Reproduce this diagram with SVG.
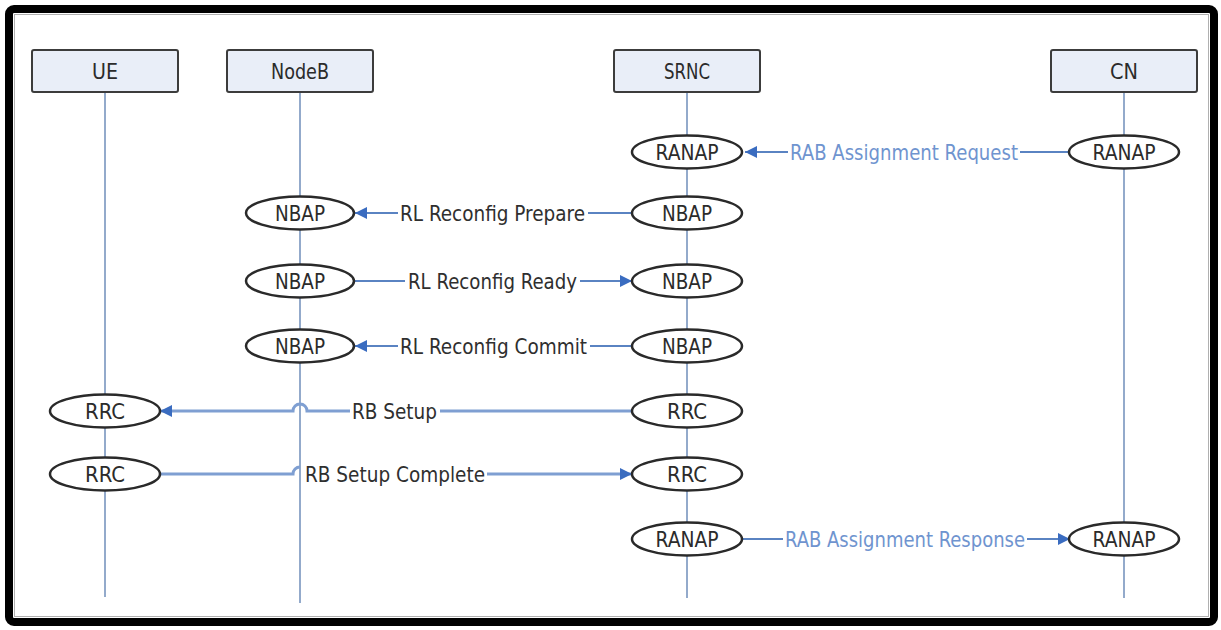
<svg xmlns="http://www.w3.org/2000/svg" width="1221" height="630" viewBox="0 0 1221 630">
<defs>
<style>
.frame{fill:#ffffff;stroke:#000000;stroke-width:8}
.inner{fill:none;stroke:#b0b0b0;stroke-width:1}
.hdr{fill:#e9eef8;stroke:#3c3c3c;stroke-width:2}
.life{stroke:#93aacb;stroke-width:2;fill:none}
.ell{fill:#ffffff;stroke:#2a2a2a;stroke-width:2.5}
.lbl{font-family:"DejaVu Sans Condensed","DejaVu Sans",sans-serif;font-size:22px;fill:#2b2b2b;text-anchor:middle}
.msg{stroke:#5a83c2;stroke-width:2;fill:none}
.msg2{stroke:#7f9fd2;stroke-width:3;fill:none}
.mt{font-family:"DejaVu Sans Condensed","DejaVu Sans",sans-serif;font-size:22px;fill:#2f2f2f}
.mtb{font-family:"DejaVu Sans Condensed","DejaVu Sans",sans-serif;font-size:22px;fill:#6f94cf}
</style>
<marker id="arr" viewBox="0 0 12 12" refX="12" refY="6" markerWidth="12" markerHeight="12" markerUnits="userSpaceOnUse" orient="auto">
<path d="M0,0 L12,6 L0,12 z" fill="#3a6cc0"/>
</marker>
</defs>
<rect class="frame" x="9" y="9" width="1205" height="613" rx="5"/>
<rect class="inner" x="14.5" y="14.5" width="1194" height="602"/>

<g id="lifelines">
<line class="life" x1="105" y1="92" x2="105" y2="597"/>
<line class="life" x1="300" y1="92" x2="300" y2="603"/>
<line class="life" x1="687" y1="92" x2="687" y2="598"/>
<line class="life" x1="1124" y1="92" x2="1124" y2="598"/>
</g>

<g id="connectors">
<path class="msg" d="M1070,152 L1020,152 M788,152 L745,152" marker-end="url(#arr)"/>
<text class="mtb" x="790" y="160" textLength="228" lengthAdjust="spacingAndGlyphs">RAB Assignment Request</text>
<path class="msg" d="M632,213 L588,213 M398,213 L355,213" marker-end="url(#arr)"/>
<text class="mt" x="400" y="221" textLength="185" lengthAdjust="spacingAndGlyphs">RL Reconfig Prepare</text>
<path class="msg" d="M354,281 L405,281 M580,281 L632,281" marker-end="url(#arr)"/>
<text class="mt" x="408" y="289" textLength="169" lengthAdjust="spacingAndGlyphs">RL Reconfig Ready</text>
<path class="msg" d="M632,346 L590,346 M398,346 L355,346" marker-end="url(#arr)"/>
<text class="mt" x="400" y="354" textLength="187" lengthAdjust="spacingAndGlyphs">RL Reconfig Commit</text>
<path class="msg2" d="M632,411 L440,411 M350,411 L307,411 A7,7 0 0 0 293,411 L160,411" marker-end="url(#arr)"/>
<text class="mt" x="352" y="419" textLength="85" lengthAdjust="spacingAndGlyphs">RB Setup</text>
<path class="msg2" d="M160,474 L293,474 A7,7 0 0 1 300,467 M487,474 L632,474" marker-end="url(#arr)"/>
<text class="mt" x="305" y="482" textLength="180" lengthAdjust="spacingAndGlyphs">RB Setup Complete</text>
<path class="msg" d="M742,539 L783,539 M1027,539 L1070,539" marker-end="url(#arr)"/>
<text class="mtb" x="785" y="547" textLength="240" lengthAdjust="spacingAndGlyphs">RAB Assignment Response</text>
</g>

<g id="UE">
<rect class="hdr" x="32" y="50" width="146" height="42" rx="2"/>
<text class="lbl" x="105" y="79" textLength="26" lengthAdjust="spacingAndGlyphs">UE</text>
</g>
<g id="NodeB">
<rect class="hdr" x="227" y="50" width="146" height="42" rx="2"/>
<text class="lbl" x="300" y="79" textLength="58" lengthAdjust="spacingAndGlyphs">NodeB</text>
</g>
<g id="SRNC">
<rect class="hdr" x="614" y="50" width="146" height="42" rx="2"/>
<text class="lbl" x="687" y="79" textLength="46" lengthAdjust="spacingAndGlyphs">SRNC</text>
</g>
<g id="CN">
<rect class="hdr" x="1051" y="50" width="146" height="42" rx="2"/>
<text class="lbl" x="1124" y="79" textLength="28" lengthAdjust="spacingAndGlyphs">CN</text>
</g>

<g id="srnc-ranap-1"><ellipse class="ell" cx="687" cy="152" rx="55" ry="16.5"/><text class="lbl" x="687" y="160" textLength="63" lengthAdjust="spacingAndGlyphs">RANAP</text></g>
<g id="cn-ranap-1"><ellipse class="ell" cx="1124" cy="152" rx="55" ry="16.5"/><text class="lbl" x="1124" y="160" textLength="63" lengthAdjust="spacingAndGlyphs">RANAP</text></g>
<g id="nodeb-nbap-1"><ellipse class="ell" cx="300" cy="213" rx="54" ry="16.5"/><text class="lbl" x="300" y="221" textLength="50" lengthAdjust="spacingAndGlyphs">NBAP</text></g>
<g id="srnc-nbap-1"><ellipse class="ell" cx="687" cy="213" rx="55" ry="16.5"/><text class="lbl" x="687" y="221" textLength="50" lengthAdjust="spacingAndGlyphs">NBAP</text></g>
<g id="nodeb-nbap-2"><ellipse class="ell" cx="300" cy="281" rx="54" ry="16.5"/><text class="lbl" x="300" y="289" textLength="50" lengthAdjust="spacingAndGlyphs">NBAP</text></g>
<g id="srnc-nbap-2"><ellipse class="ell" cx="687" cy="281" rx="55" ry="16.5"/><text class="lbl" x="687" y="289" textLength="50" lengthAdjust="spacingAndGlyphs">NBAP</text></g>
<g id="nodeb-nbap-3"><ellipse class="ell" cx="300" cy="346" rx="54" ry="16.5"/><text class="lbl" x="300" y="354" textLength="50" lengthAdjust="spacingAndGlyphs">NBAP</text></g>
<g id="srnc-nbap-3"><ellipse class="ell" cx="687" cy="346" rx="55" ry="16.5"/><text class="lbl" x="687" y="354" textLength="50" lengthAdjust="spacingAndGlyphs">NBAP</text></g>
<g id="ue-rrc-1"><ellipse class="ell" cx="105" cy="411" rx="55" ry="16.5"/><text class="lbl" x="105" y="419" textLength="40" lengthAdjust="spacingAndGlyphs">RRC</text></g>
<g id="srnc-rrc-1"><ellipse class="ell" cx="687" cy="411" rx="55" ry="16.5"/><text class="lbl" x="687" y="419" textLength="40" lengthAdjust="spacingAndGlyphs">RRC</text></g>
<g id="ue-rrc-2"><ellipse class="ell" cx="105" cy="474" rx="55" ry="16.5"/><text class="lbl" x="105" y="482" textLength="40" lengthAdjust="spacingAndGlyphs">RRC</text></g>
<g id="srnc-rrc-2"><ellipse class="ell" cx="687" cy="474" rx="55" ry="16.5"/><text class="lbl" x="687" y="482" textLength="40" lengthAdjust="spacingAndGlyphs">RRC</text></g>
<g id="srnc-ranap-2"><ellipse class="ell" cx="687" cy="539" rx="55" ry="16.5"/><text class="lbl" x="687" y="547" textLength="63" lengthAdjust="spacingAndGlyphs">RANAP</text></g>
<g id="cn-ranap-2"><ellipse class="ell" cx="1124" cy="539" rx="55" ry="16.5"/><text class="lbl" x="1124" y="547" textLength="63" lengthAdjust="spacingAndGlyphs">RANAP</text></g>
</svg>
